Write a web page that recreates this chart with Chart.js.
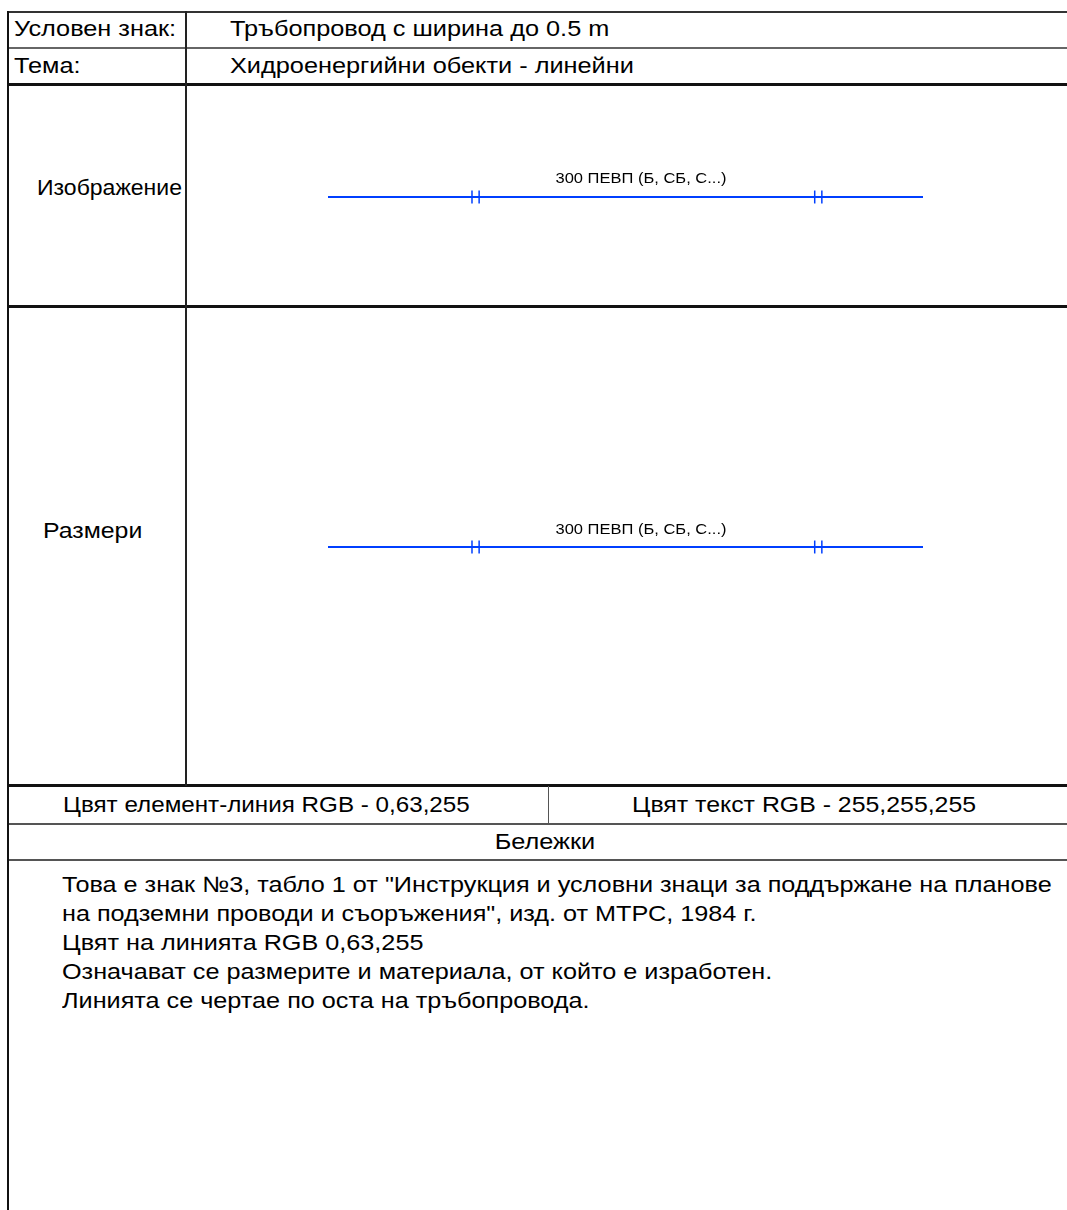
<!DOCTYPE html>
<html>
<head>
<meta charset="utf-8">
<script src="https://cdn.jsdelivr.net/npm/chart.js@4.4.1/dist/chart.umd.min.js"></script>
<style>
  body { margin: 0; background: #fff; font-family: "Liberation Sans", Arial, sans-serif; color: #000; }
  #page { position: relative; width: 1067px; height: 1210px; overflow: hidden; }
  .hl { position: absolute; height: 0; border-top: 2px solid #444; }
  .vl { position: absolute; width: 0; border-left: 2px solid #222; }
  .t { position: absolute; font-size: 22px; line-height: 24px; white-space: nowrap;
       transform-origin: left center; transform: scaleX(1.15); }
  .c { transform-origin: center center; }
  .sym { position: absolute; }
  .lbl { position: absolute; font-size: 15px; line-height: 16px; white-space: nowrap;
         transform: translateX(-50%) scaleX(1.1); }
</style>
</head>
<body>
<div id="page">
  <!-- рамка на таблицата -->
  <div class="hl" style="left:8px;width:1059px;top:11px;border-color:#333"></div>
  <div class="hl" style="left:8px;width:1059px;top:47px;border-color:#666"></div>
  <div class="hl" style="left:8px;width:1059px;top:83px;border-top:3px solid #111"></div>
  <div class="hl" style="left:8px;width:1059px;top:305px;border-top:3px solid #111"></div>
  <div class="hl" style="left:8px;width:1059px;top:784px;border-top:3px solid #111"></div>
  <div class="hl" style="left:8px;width:1059px;top:823px;border-color:#555"></div>
  <div class="hl" style="left:8px;width:1059px;top:859px;border-color:#555"></div>
  <div class="vl" style="left:7px;top:11px;height:1199px;border-color:#111"></div>
  <div class="vl" style="left:185px;top:11px;height:775px"></div>
  <div class="vl" style="left:548px;top:786px;height:38px;border-left:1px solid #555"></div>

  <!-- текстове -->
  <div class="t" style="left:14px;top:17px">Условен знак:</div>
  <div class="t" style="left:230px;top:17px">Тръбопровод с ширина до 0.5 m</div>
  <div class="t" style="left:14px;top:54px">Тема:</div>
  <div class="t" style="left:230px;top:54px">Хидроенергийни обекти - линейни</div>
  <div class="t" style="left:37px;top:176px;transform:scaleX(1.046)">Изображение</div>
  <div class="t" style="left:43px;top:519px;transform:scaleX(1.13)">Размери</div>
  <div class="t" style="left:63px;top:793px;transform:scaleX(1.1)">Цвят елемент-линия RGB - 0,63,255</div>
  <div class="t" style="left:632px;top:793px;transform:scaleX(1.13)">Цвят текст RGB - 255,255,255</div>
  <div class="t c" style="left:345px;width:400px;text-align:center;top:830px">Бележки</div>
  <div class="t" style="left:62px;top:870px;line-height:29px;transform:scaleX(1.146)">
    Това е знак №3, табло 1 от "Инструкция и условни знаци за поддържане на планове<br>
    на подземни проводи и съоръжения", изд. от МТРС, 1984 г.<br>
    Цвят на линията RGB 0,63,255<br>
    Означават се размерите и материала, от който е изработен.<br>
    Линията се чертае по оста на тръбопровода.
  </div>

  <!-- условен знак -->
  <canvas id="symImage" class="sym" width="615" height="54" style="left:318px;top:170px"></canvas>
  <div class="lbl" style="left:641px;top:170px">300 ПЕВП (Б, СБ, С...)</div>
  <canvas id="symSize" class="sym" width="615" height="54" style="left:318px;top:520px"></canvas>
  <div class="lbl" style="left:641px;top:521px">300 ПЕВП (Б, СБ, С...)</div>
</div>

<script>
// линия на тръбопровода (условни единици)
const pipeX = [0, 100];
const pipeY = [0, 0];
// двойни черти върху линията
const tickX = [24.2, 25.4, 81.8, 83.0];
const tickHalf = 0.24;
const lineColor = "rgb(0, 63, 255)";

function drawSymbol(canvasId) {
  const datasets = [{
    data: pipeX.map((x, i) => ({ x: x, y: pipeY[i] })),
    borderColor: lineColor,
    borderWidth: 2
  }];
  tickX.forEach((x) => {
    datasets.push({
      data: [{ x: x, y: -tickHalf }, { x: x, y: tickHalf }],
      borderColor: lineColor,
      borderWidth: 1.5
    });
  });

  new Chart(document.getElementById(canvasId), {
    type: "line",
    data: { datasets: datasets },
    options: {
      responsive: false,
      animation: false,
      elements: { point: { radius: 0 } },
      layout: { padding: { left: 10, right: 10, top: 0, bottom: 0 } },
      plugins: { legend: { display: false }, tooltip: { enabled: false } },
      scales: {
        x: { type: "linear", display: false, min: 0, max: 100 },
        y: { type: "linear", display: false, min: -1, max: 1 }
      }
    }
  });
}

drawSymbol("symImage");
drawSymbol("symSize");
</script>
</body>
</html>
